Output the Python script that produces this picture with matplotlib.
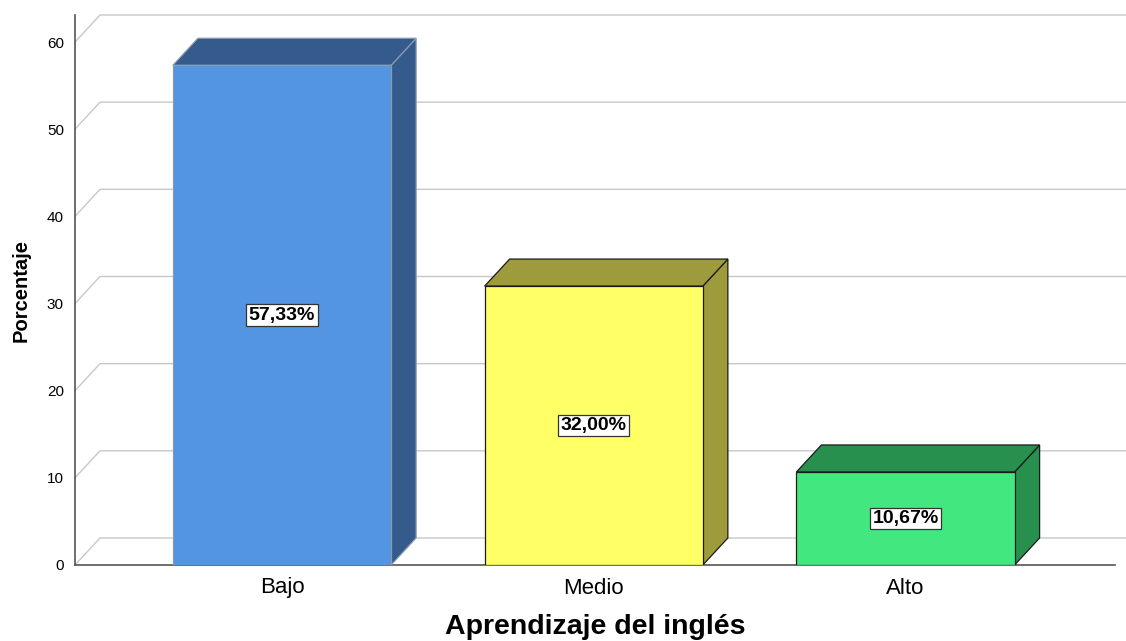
import matplotlib.pyplot as plt
from matplotlib.patches import Polygon, Rectangle

# chart data
categories = ["Bajo", "Medio", "Alto"]
values = [57.33, 32.00, 10.67]
labels = ["57,33%", "32,00%", "10,67%"]
front_colors = ["#5495e3", "#ffff66", "#42e87f"]
dark_colors = ["#345b8c", "#9e9b3c", "#27904e"]
edge_colors = ["#8a9bb0", "#1a1a1a", "#1a1a1a"]
yticks = [0, 10, 20, 30, 40, 50, 60]

plt.rcParams['font.family'] = ['Liberation Sans', 'DejaVu Sans']

fig = plt.figure(figsize=(11.26, 6.41), dpi=100)
ax = fig.add_axes([75 / 1126, 76 / 641, 1040 / 1126, 550 / 641])

xmin, xmax = -0.664, 2.672
ymax = 63.1
ax.set_xlim(xmin, xmax)
ax.set_ylim(0, ymax)

# depth of the 3d effect in data units
dx = 0.0802
dy = 3.1
width = 0.7

# back grid lines with the diagonal at the wall
for v in yticks:
    ax.plot([xmin, xmin + dx, 2.71], [v, v + dy, v + dy],
            color="#c8c8c8", lw=1, clip_on=False, zorder=1)

# front baseline and y axis line
ax.plot([xmin, xmax], [0, 0], color="#555555", lw=1.2, clip_on=False, zorder=2)
ax.plot([xmin, xmin], [0, ymax], color="#555555", lw=1.2, clip_on=False, zorder=2)

for i, v in enumerate(values):
    x0 = i - width / 2
    x1 = i + width / 2
    ec = edge_colors[i]
    # side face
    ax.add_patch(Polygon([(x1, 0), (x1 + dx, dy), (x1 + dx, v + dy), (x1, v)],
                         closed=True, facecolor=dark_colors[i], edgecolor=ec,
                         lw=0.9, zorder=3))
    # top face
    ax.add_patch(Polygon([(x0, v), (x0 + dx, v + dy), (x1 + dx, v + dy), (x1, v)],
                         closed=True, facecolor=dark_colors[i], edgecolor=ec,
                         lw=0.9, zorder=3))
    # front face
    ax.add_patch(Rectangle((x0, 0), width, v, facecolor=front_colors[i],
                           edgecolor=ec, lw=0.9, zorder=4))
    ax.text(i, v / 2, labels[i], ha="center", va="center", fontsize=14,
            fontweight="bold", zorder=5,
            bbox=dict(boxstyle="square,pad=0.12", facecolor="white",
                      edgecolor="#333333", lw=0.9))

for s in ax.spines.values():
    s.set_visible(False)

ax.set_yticks(yticks)
ax.set_yticklabels([str(t) for t in yticks], fontsize=11)
ax.set_xticks(range(len(categories)))
ax.set_xticklabels(categories, fontsize=16)
ax.tick_params(axis='y', length=0, pad=8)
ax.tick_params(axis='x', length=0, pad=9)

ax.set_xlabel("Aprendizaje del inglés", fontsize=20.5, fontweight="bold", labelpad=11)
ax.set_ylabel("Porcentaje", fontsize=14.5, fontweight="bold", labelpad=12)

fig.savefig("out.png", dpi=100)
